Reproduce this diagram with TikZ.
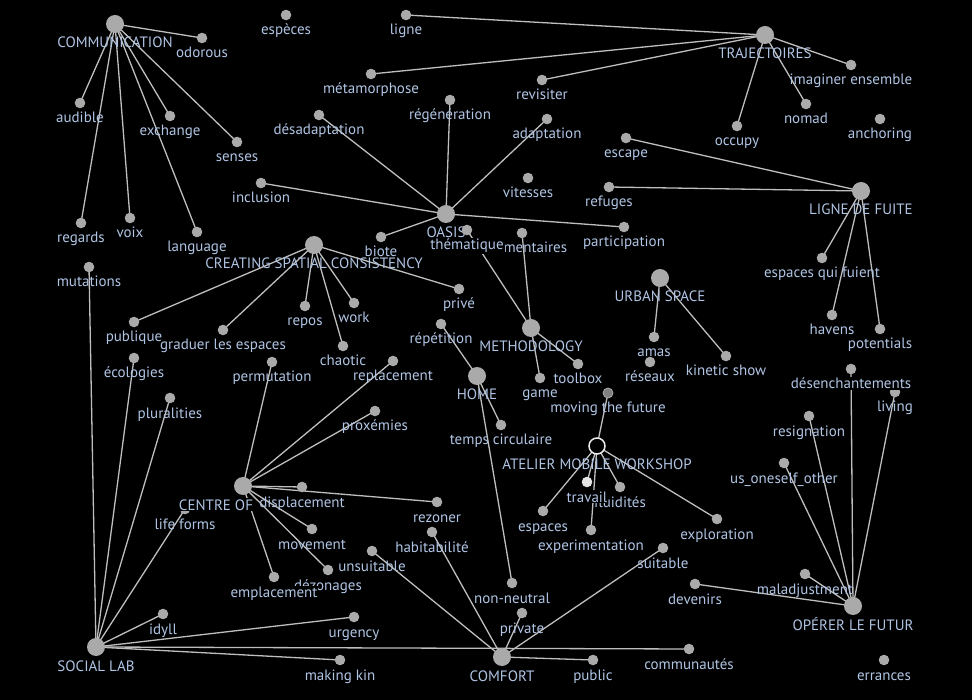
\documentclass[tikz,border=0pt]{standalone}
\usepackage{fontspec}
\setmainfont{PT Sans}
\pgfdeclarelayer{bg}
\pgfdeclarelayer{edges}
\pgfsetlayers{bg,edges,main}
\definecolor{nodefill}{RGB}{170,170,170}
\definecolor{edgec}{RGB}{190,190,190}
\definecolor{txt}{RGB}{176,196,228}
\tikzset{
  sm/.style={circle,fill=nodefill,draw=none,minimum size=10.6pt,inner sep=0pt},
  hub/.style={circle,fill=nodefill,draw=none,minimum size=18pt,inner sep=0pt},
  openhub/.style={circle,fill=black,draw=white!92!black,line width=1.5pt,minimum size=16pt,inner sep=0pt},
  darksm/.style={sm,fill=black!50,draw=nodefill,line width=0.8pt,minimum size=10pt},
  lightsm/.style={sm,fill=white!90!black},
  edge/.style={draw=edgec,line width=1.3pt},
  labsty/.style={anchor=base,inner sep=0pt,font=\fontsize{15}{17}\selectfont,text=txt},
  cover/.style={fill=black,inner sep=1pt},
}
\newcommand\nd[8]{\node[#1] (#2) at (#3,#4) {}; \node[labsty,#7] (#2-l) at (#6,#4+#5) {#8};}
\newcommand\sn[4]{\nd{sm}{#1}{#2}{#3}{20}{#2}{}{#4}}
\newcommand\hn[4]{\nd{hub}{#1}{#2}{#3}{24}{#2}{}{#4}}
\begin{document}
\begin{tikzpicture}[x=1pt,y=-1pt]
\begin{pgfonlayer}{bg}
\fill[black] (0,0) rectangle (972,700);
\end{pgfonlayer}
\useasboundingbox (0,0) rectangle (972,700);
% hubs
\hn{comm}{115}{24}{COMMUNICATION}
\hn{traj}{765}{35}{TRAJECTOIRES}
\hn{lignef}{861}{191}{LIGNE DE FUITE}
\hn{oasis}{446}{214}{OASIS}
\hn{creat}{314}{245}{CREATING SPATIAL CONSISTENCY}
\hn{urban}{660}{278}{URBAN SPACE}
\hn{meth}{531}{328}{METHODOLOGY}
\hn{home}{477}{376}{HOME}
\nd{openhub}{atelier}{597}{446}{23.5}{597}{}{ATELIER MOBILE WORKSHOP}
\hn{social}{96}{647}{SOCIAL LAB}
\hn{comfort}{502}{657}{COMFORT}
\hn{operer}{853}{606}{OPÉRER LE FUTUR}
% leaves
\sn{odorous}{202}{38}{odorous}
\sn{especes}{286}{15}{espèces}
\sn{ligne}{406}{15}{ligne}
\sn{metam}{371}{74}{métamorphose}
\sn{revis}{542}{80}{revisiter}
\sn{imag}{851}{65}{imaginer ensemble}
\sn{nomad}{806}{104}{nomad}
\sn{occupy}{737}{126}{occupy}
\sn{anchor}{880}{119}{anchoring}
\sn{audible}{80}{103}{audible}
\sn{exchange}{170}{116}{exchange}
\sn{desad}{319}{115}{désadaptation}
\sn{regen}{450}{100}{régénération}
\sn{adapt}{547}{119}{adaptation}
\sn{escape}{626}{138}{escape}
\sn{senses}{237}{142}{senses}
\sn{inclusion}{261}{183}{inclusion}
\sn{vitesses}{528}{178}{vitesses}
\sn{refuges}{609}{187}{refuges}
\sn{regards}{81}{223}{regards}
\sn{voix}{130}{218}{voix}
\sn{language}{197}{232}{language}
\sn{participation}{624}{227}{participation}
\sn{biote}{381}{237}{biote}
\sn{comment}{522}{233}{commentaires}
\nd{sm}{thematique}{467}{230}{20}{467}{cover}{thématique}
\sn{mutations}{89}{267}{mutations}
\sn{espfuient}{822}{258}{espaces qui fuient}
\sn{publique}{134}{322}{publique}
\sn{graduer}{223}{330}{graduer les espaces}
\sn{repos}{305}{306}{repos}
\sn{work}{354}{303}{work}
\sn{prive}{459}{289}{privé}
\sn{chaotic}{343}{346}{chaotic}
\sn{repet}{441}{324}{répétition}
\sn{havens}{832}{315}{havens}
\sn{potentials}{880}{329}{potentials}
\sn{amas}{654}{337}{amas}
\sn{reseaux}{650}{362}{réseaux}
\sn{kinetic}{726}{356}{kinetic show}
\sn{ecologies}{134}{358}{écologies}
\sn{permutation}{272}{362}{permutation}
\sn{replacement}{393}{361}{replacement}
\sn{game}{540}{378}{game}
\sn{toolbox}{578}{364}{toolbox}
\nd{darksm}{moving}{608}{393}{20}{608}{}{moving the future}
\sn{living}{895}{392}{living}
\nd{sm}{desench}{851}{369}{20}{851}{cover}{désenchantements}
\sn{pluralities}{170}{398}{pluralities}
\sn{proxemies}{375}{411}{proxémies}
\sn{resignation}{809}{416}{resignation}
\sn{temps}{501}{425}{temps circulaire}
\sn{usone}{784}{463}{us\_oneself\_other}
\sn{fluid}{620}{487}{fluidités}
\nd{lightsm}{travail}{587}{482}{20}{587}{cover}{travail}
\sn{lifeforms}{185}{509}{life forms}
\nd{hub}{centre}{243}{486}{24}{216}{cover}{CENTRE OF}
\sn{displacement}{302}{487}{displacement}
\sn{rezoner}{437}{502}{rezoner}
\sn{espaces}{543}{511}{espaces}
\sn{exploration}{717}{519}{exploration}
\sn{movement}{312}{529}{movement}
\sn{experimentation}{591}{530}{experimentation}
\sn{habit}{432}{532}{habitabilité}
\sn{suitable}{663}{548}{suitable}
\sn{unsuitable}{372}{551}{unsuitable}
\sn{dezonages}{328}{570}{dézonages}
\nd{sm}{emplacement}{274}{577}{20}{274}{cover}{emplacement}
\sn{maladj}{805}{574}{maladjustment}
\sn{nonneutral}{512}{583}{non-neutral}
\sn{devenirs}{695}{584}{devenirs}
\sn{idyll}{163}{614}{idyll}
\sn{private}{522}{613}{private}
\sn{urgency}{354}{617}{urgency}
\sn{communautes}{689}{649}{communautés}
\sn{making}{340}{660}{making kin}
\sn{public}{593}{660}{public}
\sn{errances}{884}{660}{errances}
\begin{pgfonlayer}{edges}
\foreach \a/\b in {comm/odorous,comm/audible,comm/regards,comm/voix,comm/exchange,comm/language,comm/senses,
  traj/ligne,traj/metam,traj/revis,traj/imag,traj/nomad,traj/occupy,
  oasis/desad,oasis/regen,oasis/adapt,oasis/inclusion,oasis/participation,oasis/biote,
  lignef/escape,lignef/refuges,lignef/espfuient,lignef/havens,lignef/potentials,
  creat/publique,creat/graduer,creat/repos,creat/chaotic,creat/work,creat/prive,
  urban/amas,urban/kinetic,
  meth/thematique,meth/comment,meth/game,meth/toolbox,
  home/repet,home/temps,home/nonneutral,
  atelier/moving,atelier/espaces,atelier/travail,atelier/fluid,atelier/experimentation,atelier/exploration,
  centre/permutation,centre/replacement,centre/proxemies,centre/displacement,centre/rezoner,centre/movement,centre/dezonages,centre/emplacement,
  social/mutations,social/ecologies,social/pluralities,social/lifeforms,social/idyll,social/urgency,social/communautes,social/making,
  comfort/unsuitable,comfort/habit,comfort/private,comfort/suitable,comfort/public,
  operer/usone,operer/resignation,operer/desench,operer/living,operer/maladj,operer/devenirs}
  {\draw[edge] (\a.center) -- (\b.center);}
\end{pgfonlayer}
\end{tikzpicture}
\end{document}
